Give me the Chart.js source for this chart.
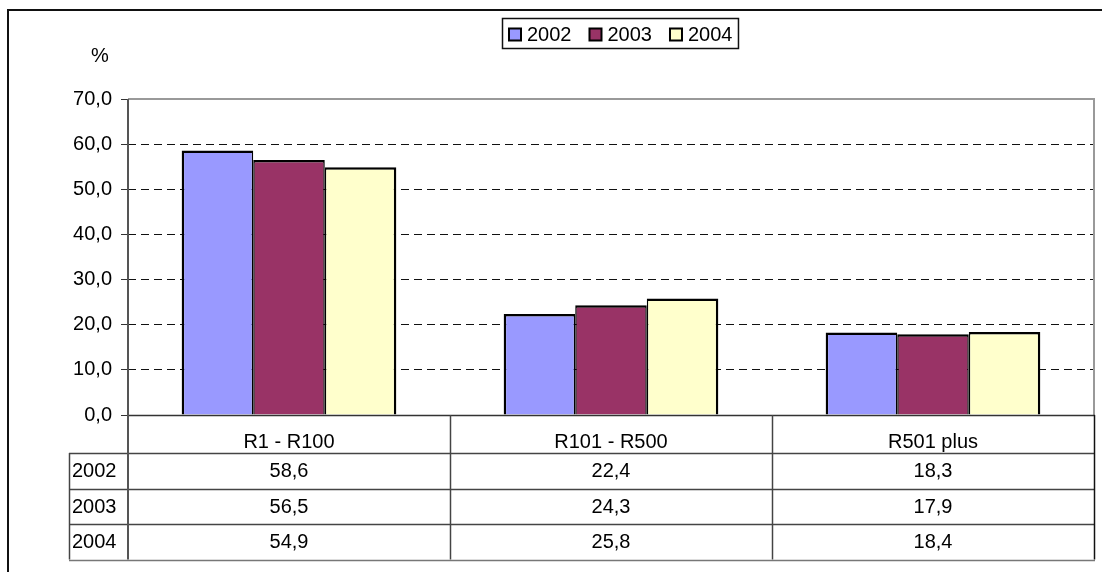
<!DOCTYPE html>
<html><head><meta charset="utf-8">
<script src="https://cdn.jsdelivr.net/npm/chart.js@4"></script>
<style>
html,body{margin:0;padding:0;background:#fff;overflow:hidden}
#wrap{position:relative;width:1102px;height:572px}
#frame{position:absolute;left:7px;top:9px;width:1200px;height:700px;border:2px solid #111;box-sizing:border-box}
canvas{position:absolute;left:0;top:0}
</style></head><body>
<div id="wrap"><div id="frame"></div><canvas id="c" width="1102" height="572"></canvas></div>
<script>
const categories = ['R1 - R100', 'R101 - R500', 'R501 plus'];
const seriesNames = ['2002', '2003', '2004'];
const values2002 = [58.6, 22.4, 18.3];
const values2003 = [56.5, 24.3, 17.9];
const values2004 = [54.9, 25.8, 18.4];
const yTicks = [0, 10, 20, 30, 40, 50, 60, 70];
const yUnit = '%';

const FONT = "'Liberation Sans', Arial, sans-serif";
const fmt = v => v.toFixed(1).replace('.', ',');

const colors = ['#9999FF', '#993366', '#FFFFCC'];
const allValues = [values2002, values2003, values2004];
const borderWidths = [
  {top: 2.5, left: 2.5, right: 1.5, bottom: 0},
  {top: 2.5, left: 1.5, right: 1.5, bottom: 0},
  {top: 2.5, left: 1.5, right: 2.5, bottom: 0}
];

const framePlugin = {
  id: 'frameTable',
  afterDatasetsDraw(chart) {
    const {ctx, chartArea: a, scales: {x}} = chart;
    const n = categories.length;
    const cw = (a.right - a.left) / n;
    const headerH = 38;
    const rowH = 35.5;
    const labelLeft = a.left - 59;
    const tableBottom = a.bottom + headerH + rowH * seriesNames.length;
    ctx.save();
    ctx.strokeStyle = '#999';
    ctx.lineWidth = 2;
    ctx.beginPath();
    ctx.moveTo(a.left, a.top); ctx.lineTo(a.right, a.top);
    ctx.lineTo(a.right, a.bottom);
    ctx.stroke();
    ctx.strokeStyle = '#333';
    ctx.lineWidth = 1.5;
    ctx.beginPath();
    ctx.moveTo(a.left, a.bottom + 0.5); ctx.lineTo(a.right + 1, a.bottom + 0.5);
    ctx.stroke();
    ctx.strokeStyle = '#444';
    ctx.lineWidth = 1.5;
    for (let r = 0; r < seriesNames.length; r++) {
      const yy = Math.round(a.bottom + headerH + rowH * r) + 0.5;
      ctx.beginPath(); ctx.moveTo(labelLeft, yy); ctx.lineTo(a.right + 1, yy); ctx.stroke();
    }
    ctx.strokeStyle = '#777';
    ctx.beginPath(); ctx.moveTo(labelLeft, Math.round(tableBottom) + 0.5); ctx.lineTo(a.right + 1, Math.round(tableBottom) + 0.5); ctx.stroke();
    ctx.strokeStyle = '#444';
    ctx.lineWidth = 1.5;
    for (let i = 1; i < n; i++) {
      const xx = Math.round(a.left + cw * i) + 0.5;
      ctx.beginPath(); ctx.moveTo(xx, a.bottom); ctx.lineTo(xx, tableBottom); ctx.stroke();
    }
    ctx.beginPath(); ctx.moveTo(labelLeft + 0.5, a.bottom + headerH); ctx.lineTo(labelLeft + 0.5, tableBottom); ctx.stroke();
    ctx.strokeStyle = '#111';
    ctx.beginPath(); ctx.moveTo(a.right + 0.5, a.bottom); ctx.lineTo(a.right + 0.5, tableBottom); ctx.stroke();
    ctx.strokeStyle = '#555';
    ctx.lineWidth = 2;
    ctx.beginPath(); ctx.moveTo(a.left, a.top); ctx.lineTo(a.left, tableBottom); ctx.stroke();
    ctx.fillStyle = '#000';
    ctx.font = '20px ' + FONT;
    ctx.textBaseline = 'middle';
    for (let r = 0; r < seriesNames.length; r++) {
      const cy = a.bottom + headerH + rowH * r + rowH / 2 + 1;
      ctx.textAlign = 'left';
      ctx.fillText(seriesNames[r], labelLeft + 3, cy);
      ctx.textAlign = 'center';
      for (let i = 0; i < n; i++) {
        ctx.fillText(fmt(allValues[r][i]), x.getPixelForValue(i), cy);
      }
    }
    ctx.textAlign = 'center';
    ctx.fillText(yUnit, 100, 56);
    // legend
    const sq = 12, gapT = 6, gapItem = 18;
    let lx = 509;
    const ly = 34.5;
    ctx.textAlign = 'left';
    const ds = chart.data.datasets;
    const totalW = ds.reduce((s, d) => s + sq + gapT + ctx.measureText(d.label).width, 0) + gapItem * (ds.length - 1);
    ctx.strokeStyle = '#111';
    ctx.lineWidth = 1.5;
    ctx.strokeRect(502.5, 18.5, (lx + totalW + 6) - 502.5, 30);
    ds.forEach(d => {
      ctx.fillStyle = d.backgroundColor;
      ctx.fillRect(lx, ly - 6, sq, sq);
      ctx.strokeStyle = '#000';
      ctx.lineWidth = 2;
      ctx.strokeRect(lx, ly - 6, sq, sq);
      ctx.fillStyle = '#000';
      ctx.fillText(d.label, lx + sq + gapT, ly + 1);
      lx += sq + gapT + ctx.measureText(d.label).width + gapItem;
    });
    ctx.restore();
  }
};

new Chart(document.getElementById('c'), {
  type: 'bar',
  data: {
    labels: categories,
    datasets: seriesNames.map((name, i) => ({
      label: name,
      data: allValues[i],
      backgroundColor: colors[i],
      borderColor: '#000',
      borderWidth: borderWidths[i],
      borderSkipped: 'bottom',
      categoryPercentage: 3 / 4.5,
      barPercentage: 1.0
    }))
  },
  options: {
    responsive: false,
    animation: false,
    devicePixelRatio: 1,
    layout: {padding: {top: 99, right: 8, left: 0, bottom: 0}},
    plugins: {legend: {display: false}, tooltip: {enabled: false}, title: {display: false}},
    scales: {
      x: {
        grid: {display: false},
        border: {display: false},
        ticks: {font: {family: FONT, size: 20}, color: '#000', padding: 7, maxRotation: 0},
        afterFit: s => { s.height = 157; }
      },
      y: {
        min: 0, max: 70,
        afterBuildTicks: s => { s.ticks = yTicks.map(v => ({value: v})); },
        grid: {
          color: c => (c.tick && (c.tick.value === 0 || c.tick.value === 70)) ? 'rgba(0,0,0,0)' : '#111',
          tickColor: '#333',
          tickLength: 7,
          lineWidth: 1
        },
        border: {display: false, dash: [8, 5]},
        ticks: {font: {family: FONT, size: 20}, color: '#000', padding: 9, callback: v => fmt(v)},
        afterFit: s => { s.width = 128; }
      }
    }
  },
  plugins: [framePlugin]
});
</script>
</body></html>
